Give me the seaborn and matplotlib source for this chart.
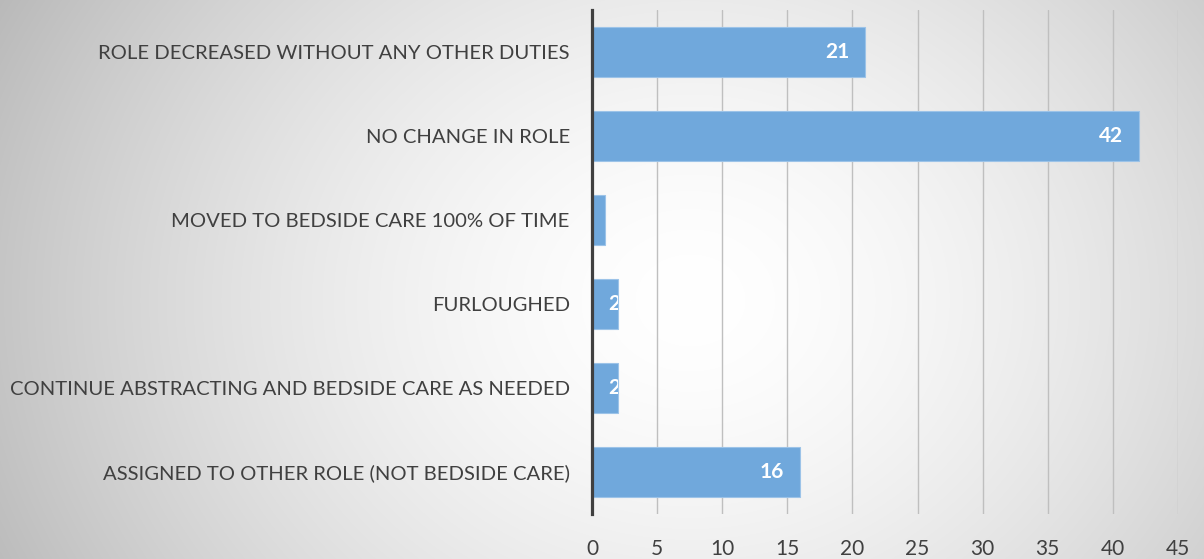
import numpy as np
import pandas as pd
import matplotlib.pyplot as plt
import seaborn as sns

categories = [
    "ROLE DECREASED WITHOUT ANY OTHER DUTIES",
    "NO CHANGE IN ROLE",
    "MOVED TO BEDSIDE CARE 100% OF TIME",
    "FURLOUGHED",
    "CONTINUE ABSTRACTING AND BEDSIDE CARE AS NEEDED",
    "ASSIGNED TO OTHER ROLE (NOT BEDSIDE CARE)",
]
counts = [21, 42, 1, 2, 2, 16]
x_ticks = [0, 5, 10, 15, 20, 25, 30, 35, 40, 45]

df = pd.DataFrame({"role": categories, "count": counts})

sns.set_style("white")
plt.rcParams["font.family"] = ["Lato", "DejaVu Sans"]

text_color = "#404040"
bar_color = "#70a8dc"

fig = plt.figure(figsize=(12.04, 5.59), dpi=100)

# radial grey-to-white background
h, w = 559, 1204
yy, xx = np.mgrid[0:h, 0:w]
d = np.sqrt(((xx - 690) / 620.0) ** 2 + ((yy - 300) / 520.0) ** 2)
shade = np.clip(1.0 - 0.19 * d ** 1.6, 0, 1)
bg = np.dstack([shade, shade, shade])
fig.figimage(bg, 0, 0, origin="upper", zorder=-10)

ax = fig.add_axes([592 / w, 1 - 514 / h, (1178 - 592) / w, (514 - 10) / h])
ax.patch.set_alpha(0)

sns.barplot(data=df, x="count", y="role", orient="h", color=bar_color,
            width=0.6, saturation=1, edgecolor="#9cc3e8", linewidth=0.8,
            ax=ax, zorder=3)

ax.set_xlim(0, 45)
ax.set_ylim(5.5, -0.5)
ax.set_xticks(x_ticks)
ax.set_xlabel("")
ax.set_ylabel("")
ax.grid(axis="x", color="#bfbfbf", linewidth=1, zorder=1)
ax.set_axisbelow(True)
for s in ["top", "right", "bottom"]:
    ax.spines[s].set_visible(False)
ax.spines["left"].set_color("#404040")
ax.spines["left"].set_linewidth(2.3)
ax.spines["left"].set_zorder(5)
ax.tick_params(axis="x", length=5, width=1, color="#bfbfbf", pad=13,
               labelsize=15, labelcolor=text_color)
ax.tick_params(axis="y", length=0, pad=16, labelsize=14.6, labelcolor=text_color)

# value labels inside bar ends, clipped to the bar
for bar, v in zip(ax.patches, counts):
    yc = bar.get_y() + bar.get_height() / 2
    if v >= 4:
        t = ax.annotate(str(v), (v, yc), xytext=(-11.5, 0), textcoords="offset points",
                        ha="right", va="center", color="white", fontsize=15,
                        fontweight="bold", zorder=6)
    else:
        t = ax.annotate(str(v), (0, yc), xytext=(12, 0), textcoords="offset points",
                        ha="left", va="center", color="white", fontsize=15,
                        fontweight="bold", zorder=6)
    t.set_clip_path(bar)

fig.savefig("out.png", dpi=100)
